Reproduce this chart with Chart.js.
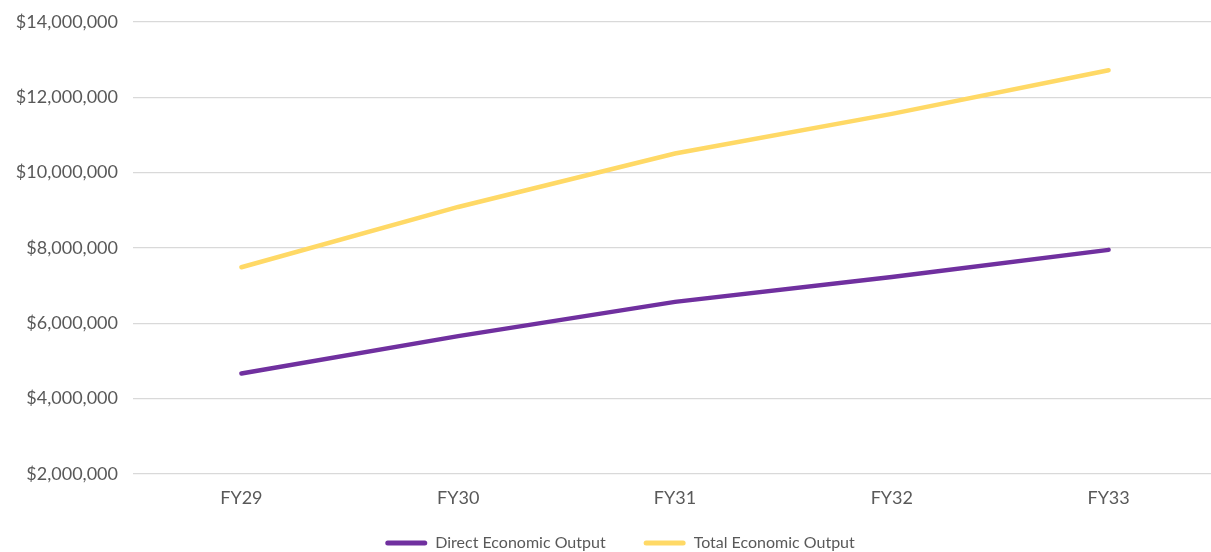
<!DOCTYPE html>
<html>
<head>
<meta charset="utf-8">
<script src="https://cdn.jsdelivr.net/npm/chart.js@4"></script>
<style>
  html, body { margin: 0; padding: 0; background: #fff; overflow: hidden; }
  #wrap { width: 1217px; height: 552px; }
</style>
</head>
<body>
<div id="wrap"><canvas id="outputChart"></canvas></div>
<script>
// Fiscal years along the x axis
const years = ['FY29', 'FY30', 'FY31', 'FY32', 'FY33'];

// Values (dollars)
const directOutput = [4670000, 5660000, 6570000, 7230000, 7950000];
const totalOutput = [7490000, 9090000, 10510000, 11560000, 12720000];

const purple = '#70309f';
const yellow = '#ffd966';
const textGrey = '#595959';

// The legend needs a wide gap between its two items, but the same padding
// is also used vertically, so trim the box height and pull the items up
// (and nudge it right so it centres under the plot like the original).
const LEGEND_TRIM = 20;
const LEGEND_LIFT = 11;
const LEGEND_NUDGE = 23;
const legendSpacing = {
  id: 'legendSpacing',
  afterInit(chart) {
    const legend = chart.legend;
    const baseFit = legend.fit;
    legend.fit = function() {
      baseFit.call(this);
      this.height -= LEGEND_TRIM;
    };
    const baseDraw = legend.draw;
    legend.draw = function() {
      this.top -= LEGEND_LIFT;
      this.left += LEGEND_NUDGE;
      baseDraw.call(this);
      this.top += LEGEND_LIFT;
      this.left -= LEGEND_NUDGE;
    };
  }
};

const ctx = document.getElementById('outputChart');
new Chart(ctx, {
  type: 'line',
  data: {
    labels: years,
    datasets: [
      {
        label: 'Direct Economic Output',
        data: directOutput,
        borderColor: purple,
        backgroundColor: purple,
        borderWidth: 4.5,
        pointRadius: 0,
        borderCapStyle: 'round',
        tension: 0
      },
      {
        label: 'Total Economic Output',
        data: totalOutput,
        borderColor: yellow,
        backgroundColor: yellow,
        borderWidth: 4.5,
        pointRadius: 0,
        borderCapStyle: 'round',
        tension: 0
      }
    ]
  },
  plugins: [legendSpacing],
  options: {
    responsive: true,
    maintainAspectRatio: false,
    animation: false,
    layout: { padding: { top: 22, left: 0, right: 0, bottom: 0 } },
    plugins: {
      tooltip: { enabled: false },
      legend: {
        position: 'bottom',
        labels: {
          color: textGrey,
          font: { family: 'Lato', size: 16 },
          boxWidth: 42,
          boxHeight: 5,
          useBorderRadius: true,
          borderRadius: 2.5,
          padding: 38,
          generateLabels: function(chart) {
            const items = Chart.defaults.plugins.legend.labels.generateLabels(chart);
            items.forEach(function(it) { it.lineWidth = 0; });
            return items;
          }
        }
      }
    },
    scales: {
      x: {
        offset: true,
        grid: { display: false },
        border: { display: false },
        ticks: {
          color: textGrey,
          font: { family: 'Lato', size: 18 },
          padding: 5
        },
        afterFit: function(scale) { scale.height = 34; }
      },
      y: {
        min: 2000000,
        max: 14000000,
        ticks: {
          stepSize: 2000000,
          color: textGrey,
          font: { family: 'Lato', size: 18 },
          padding: 15,
          callback: function(value) { return '$' + value.toLocaleString('en-US'); }
        },
        grid: { color: '#d9d9d9', lineWidth: 1.3, drawTicks: false },
        border: { display: false },
        afterFit: function(scale) {
          scale.width = 133;
          scale.paddingTop = 0;
          scale.paddingBottom = 0;
        }
      }
    }
  }
});
</script>
</body>
</html>
